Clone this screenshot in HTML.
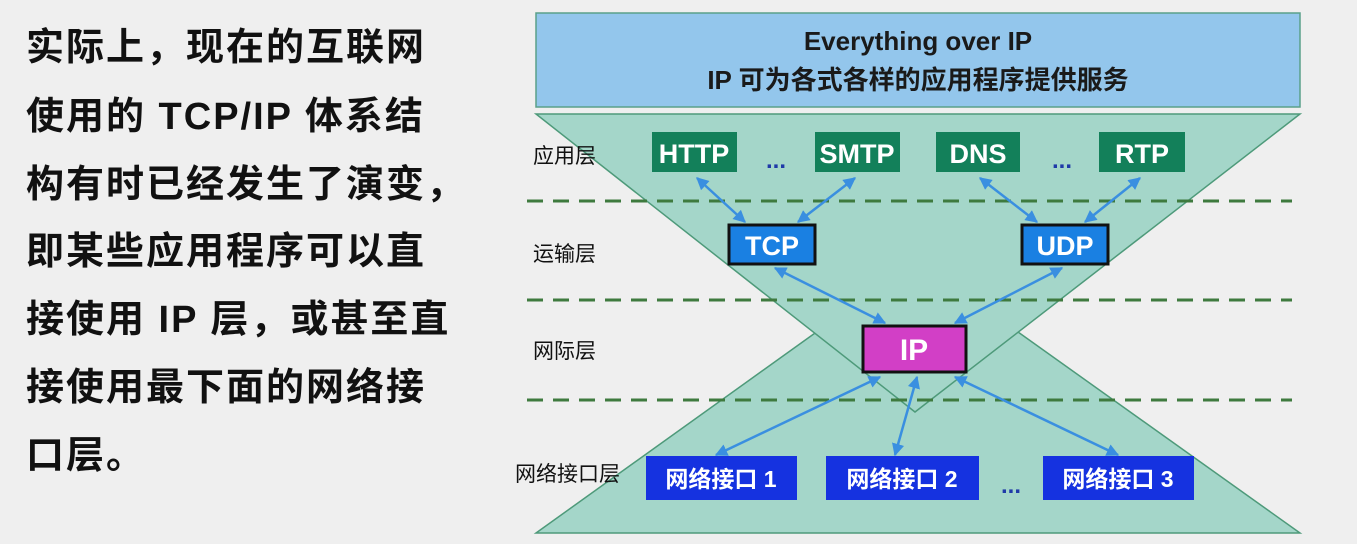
<!DOCTYPE html>
<html><head><meta charset="utf-8"><style>
html,body{margin:0;padding:0;width:1357px;height:544px;overflow:hidden;background:#efefef;}
.t{position:absolute;left:26px;font-family:"Liberation Sans","Noto Sans CJK SC",sans-serif;font-weight:bold;font-size:38px;color:#111;white-space:nowrap;letter-spacing:2px;line-height:44px;}
svg{position:absolute;left:0;top:0}
svg text{font-family:"Liberation Sans","Noto Sans CJK SC",sans-serif;}
</style></head><body>
<div class="t" style="top:26px">实际上，现在的互联网</div>
<div class="t" style="top:95px">使用的 TCP/IP 体系结</div>
<div class="t" style="top:163px">构有时已经发生了演变，</div>
<div class="t" style="top:230px">即某些应用程序可以直</div>
<div class="t" style="top:298px">接使用 IP 层，或甚至直</div>
<div class="t" style="top:366px">接使用最下面的网络接</div>
<div class="t" style="top:434px">口层。</div>
<svg width="1357" height="544" viewBox="0 0 1357 544">
<defs>
<marker id="a" viewBox="0 0 10 10" refX="9" refY="5" markerWidth="5" markerHeight="5" orient="auto-start-reverse"><path d="M0,0L10,5L0,10z" fill="#3a8fe0"/></marker>
</defs>
<rect x="536" y="13" width="764" height="94" fill="#93c6ec" stroke="#5aa08a" stroke-width="1.5"/>
<text x="918" y="50" text-anchor="middle" font-size="26" font-weight="bold" fill="#1a1a1a">Everything over IP</text>
<text x="918" y="89" text-anchor="middle" font-size="26" font-weight="bold" fill="#1a1a1a">IP 可为各式各样的应用程序提供服务</text>
<polygon points="536,533 1300,533 917,260" fill="#a4d6c9" stroke="#4e9a7a" stroke-width="1.5"/>
<polygon points="536,114 1300,114 915,412" fill="#a4d6c9" stroke="#4e9a7a" stroke-width="1.5"/>
<g stroke="#3e7a3e" stroke-width="3" stroke-dasharray="16 10">
<line x1="527" y1="201" x2="1292" y2="201"/><line x1="527" y1="300" x2="1292" y2="300"/><line x1="527" y1="400" x2="1292" y2="400"/>
</g>
<g font-size="21" fill="#111">
<text x="533" y="163">应用层</text><text x="533" y="261">运输层</text><text x="533" y="358">网际层</text><text x="515" y="481">网络接口层</text>
</g>
<g fill="#13805a"><rect x="652" y="132" width="85" height="40"/><rect x="815" y="132" width="85" height="40"/><rect x="936" y="132" width="84" height="40"/><rect x="1099" y="132" width="86" height="40"/></g>
<g font-size="27" font-weight="bold" fill="#fff" text-anchor="middle">
<text x="694" y="163">HTTP</text><text x="857" y="163">SMTP</text><text x="978" y="163">DNS</text><text x="1142" y="163">RTP</text>
</g>
<g font-size="24" font-weight="bold" fill="#1f3aa8"><text x="766" y="168">...</text><text x="1052" y="168">...</text><text x="1001" y="493">...</text></g>
<rect x="729" y="225" width="86" height="39" fill="#1a80e2" stroke="#111" stroke-width="3"/>
<rect x="1022" y="225" width="86" height="39" fill="#1a80e2" stroke="#111" stroke-width="3"/>
<rect x="863" y="326" width="103" height="46" fill="#d23fc6" stroke="#111" stroke-width="3"/>
<g font-size="27" font-weight="bold" fill="#fff" text-anchor="middle">
<text x="772" y="255">TCP</text><text x="1065" y="255">UDP</text><text x="914" y="360" font-size="30">IP</text>
</g>
<g fill="#1532e0"><rect x="646" y="456" width="151" height="44"/><rect x="826" y="456" width="153" height="44"/><rect x="1043" y="456" width="151" height="44"/></g>
<g font-size="23" font-weight="bold" fill="#fff" text-anchor="middle">
<text x="721" y="487">网络接口 1</text><text x="902" y="487">网络接口 2</text><text x="1118" y="487">网络接口 3</text>
</g>
<g stroke="#3a8fe0" stroke-width="2.5" marker-start="url(#a)" marker-end="url(#a)">
<line x1="697" y1="178" x2="745" y2="222"/><line x1="855" y1="178" x2="798" y2="222"/>
<line x1="980" y1="178" x2="1037" y2="222"/><line x1="1140" y1="178" x2="1085" y2="222"/>
<line x1="775" y1="268" x2="885" y2="323"/><line x1="1062" y1="268" x2="955" y2="323"/>
<line x1="880" y1="377" x2="716" y2="455"/><line x1="917" y1="377" x2="895" y2="455"/><line x1="955" y1="377" x2="1118" y2="455"/>
</g>
</svg>
</body></html>
